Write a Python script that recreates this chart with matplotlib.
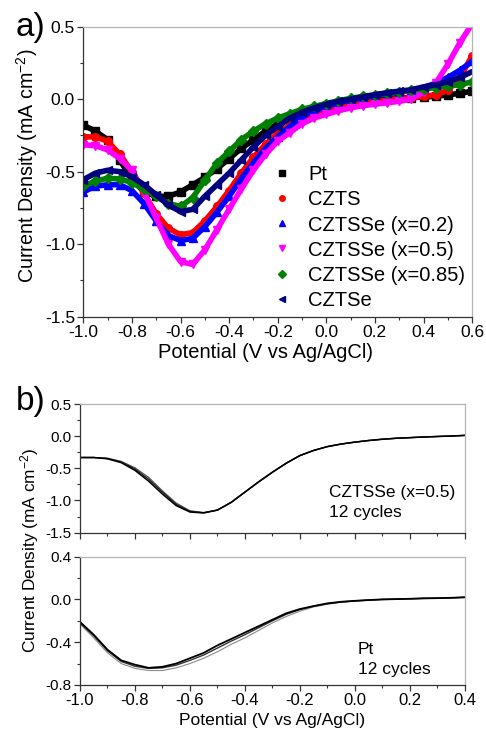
import numpy as np
import matplotlib
matplotlib.use("Agg")
import matplotlib.pyplot as plt
from matplotlib.lines import Line2D
from matplotlib.ticker import MultipleLocator

plt.rcParams['font.family'] = ['Liberation Sans', 'DejaVu Sans']
plt.rcParams['mathtext.fontset'] = 'custom'
plt.rcParams['mathtext.rm'] = 'Liberation Sans'
plt.rcParams['mathtext.it'] = 'Liberation Sans:italic'
plt.rcParams['axes.unicode_minus'] = False

# ---- panel a data (potential step 0.05 V) ----
pot_a = np.round(np.arange(-1.0, 0.6001, 0.05), 3)

j_pt = [-0.18, -0.22, -0.28, -0.42, -0.55, -0.64, -0.67, -0.67, -0.64, -0.59,
        -0.54, -0.48, -0.41, -0.34, -0.28, -0.22, -0.17, -0.13, -0.10, -0.07,
        -0.05, -0.035, -0.02, -0.01, 0.00, 0.005, 0.01, 0.01, 0.015, 0.02,
        0.03, 0.04, 0.055]
j_czts = [-0.26, -0.26, -0.29, -0.38, -0.50, -0.65, -0.79, -0.89, -0.935, -0.92,
          -0.84, -0.74, -0.63, -0.51, -0.40, -0.31, -0.235, -0.18, -0.13, -0.095,
          -0.07, -0.05, -0.035, -0.025, -0.015, -0.005, 0.005, 0.01, 0.02, 0.03,
          0.06, 0.15, 0.30]
j_x02 = [-0.64, -0.60, -0.59, -0.59, -0.63, -0.72, -0.84, -0.94, -0.975, -0.96,
         -0.88, -0.78, -0.67, -0.55, -0.44, -0.34, -0.26, -0.19, -0.12, -0.08,
         -0.05, -0.025, -0.005, 0.01, 0.025, 0.04, 0.05, 0.06, 0.08, 0.11,
         0.15, 0.20, 0.26]
j_x05 = [-0.315, -0.32, -0.35, -0.41, -0.49, -0.64, -0.82, -1.00, -1.12, -1.14,
         -1.04, -0.90, -0.76, -0.62, -0.49, -0.38, -0.29, -0.23, -0.17, -0.13,
         -0.105, -0.08, -0.06, -0.045, -0.035, -0.025, -0.015, 0.0, 0.05, 0.11,
         0.24, 0.39, 0.52]
j_x085 = [-0.60, -0.565, -0.545, -0.55, -0.575, -0.62, -0.67, -0.72, -0.74, -0.68,
          -0.56, -0.44, -0.36, -0.28, -0.22, -0.17, -0.13, -0.10, -0.07, -0.05,
          -0.03, -0.01, 0.005, 0.02, 0.03, 0.04, 0.05, 0.06, 0.07, 0.08,
          0.09, 0.10, 0.12]
j_czTse = [-0.555, -0.51, -0.49, -0.50, -0.535, -0.59, -0.66, -0.73, -0.775, -0.76,
           -0.67, -0.59, -0.51, -0.42, -0.33, -0.25, -0.19, -0.13, -0.09, -0.06,
           -0.035, -0.015, 0.0, 0.015, 0.03, 0.045, 0.055, 0.065, 0.085, 0.10,
           0.12, 0.15, 0.19]

labels_a = ['Pt', 'CZTS', 'CZTSSe (x=0.2)', 'CZTSSe (x=0.5)', 'CZTSSe (x=0.85)', 'CZTSe']
series_a = [j_pt, j_czts, j_x02, j_x05, j_x085, j_czTse]
colors_a = ['black', 'red', 'blue', 'magenta', 'green', 'navy']
markers_a = ['s', 'o', '^', 'v', 'D', '<']

# ---- panel b data (potential step 0.05 V) ----
pot_b = np.round(np.arange(-1.0, 0.4001, 0.05), 3)

czt_cyc1 = [-0.33, -0.33, -0.34, -0.39, -0.49, -0.64, -0.85, -1.04, -1.16, -1.19,
            -1.15, -1.03, -0.87, -0.71, -0.56, -0.42, -0.30, -0.22, -0.16, -0.12,
            -0.09, -0.065, -0.045, -0.03, -0.02, -0.01, -0.002, 0.005, 0.015]
czt_cyc6 = [-0.33, -0.33, -0.345, -0.40, -0.51, -0.67, -0.87, -1.06, -1.17, -1.19,
            -1.15, -1.03, -0.87, -0.71, -0.56, -0.42, -0.30, -0.22, -0.16, -0.12,
            -0.09, -0.065, -0.045, -0.03, -0.02, -0.01, -0.002, 0.005, 0.015]
czt_cyc12 = [-0.33, -0.33, -0.35, -0.41, -0.53, -0.70, -0.90, -1.08, -1.18, -1.195,
             -1.15, -1.03, -0.87, -0.71, -0.56, -0.42, -0.30, -0.22, -0.16, -0.12,
             -0.09, -0.065, -0.045, -0.03, -0.02, -0.01, -0.002, 0.005, 0.015]

pt_cyc1 = [-0.23, -0.36, -0.50, -0.60, -0.645, -0.665, -0.665, -0.64, -0.60, -0.55,
           -0.49, -0.42, -0.36, -0.29, -0.22, -0.16, -0.11, -0.07, -0.045, -0.027,
           -0.016, -0.006, 0.0, 0.003, 0.006, 0.01, 0.012, 0.015, 0.02]
pt_cyc6 = [-0.22, -0.34, -0.48, -0.58, -0.625, -0.645, -0.64, -0.615, -0.57, -0.52,
           -0.455, -0.39, -0.33, -0.265, -0.20, -0.14, -0.095, -0.064, -0.04, -0.024,
           -0.014, -0.006, 0.0, 0.003, 0.006, 0.01, 0.012, 0.015, 0.02]
pt_cyc12 = [-0.21, -0.33, -0.47, -0.57, -0.61, -0.64, -0.63, -0.60, -0.55, -0.50,
            -0.43, -0.37, -0.31, -0.25, -0.19, -0.13, -0.09, -0.062, -0.037, -0.022,
            -0.013, -0.006, 0.0, 0.003, 0.006, 0.01, 0.012, 0.015, 0.02]

LIGHT = '#b4b4b4'
W, H = 486, 729


def style_axes(ax):
    for s in ['top', 'right']:
        ax.spines[s].set_color(LIGHT)
    for s in ['left', 'bottom']:
        ax.spines[s].set_color('#333333')
    for s in ax.spines.values():
        s.set_linewidth(0.9)
    ax.tick_params(which='both', direction='out', top=False, right=False, color='#333333')
    ax.tick_params(which='major', length=4, width=0.9)
    ax.tick_params(which='minor', length=2.5, width=0.8)


fig = plt.figure(figsize=(4.86, 7.29), dpi=100)

# ---------- panel a ----------
ax = fig.add_axes([0.1714, 0.5656, 0.800, 0.3978])
for ys, c, m in zip(series_a, colors_a, markers_a):
    ax.plot(pot_a, ys, color=c, lw=4, marker=m, ms=5.5, mec=c, mfc=c,
            solid_joinstyle='round', solid_capstyle='round')
ax.set_xlim(-1.0, 0.6)
ax.set_ylim(-1.5, 0.5)
ax.xaxis.set_major_locator(MultipleLocator(0.2))
ax.xaxis.set_minor_locator(MultipleLocator(0.1))
ax.yaxis.set_major_locator(MultipleLocator(0.5))
ax.yaxis.set_minor_locator(MultipleLocator(0.25))
ax.xaxis.set_major_formatter(plt.FormatStrFormatter('%.1f'))
ax.yaxis.set_major_formatter(plt.FormatStrFormatter('%.1f'))
style_axes(ax)
ax.tick_params(labelsize=12.5, pad=2)

handles = [Line2D([], [], ls='none', marker=m, color=c, ms=4)
           for c, m in zip(colors_a, markers_a)]
ax.legend(handles, labels_a, loc='lower right', bbox_to_anchor=(1.0, 0.0),
          frameon=False, fontsize=14.5, handlelength=1.0, handletextpad=0.8,
          labelspacing=0.3, borderaxespad=0.15, borderpad=0.2)

fig.text(27 / W, 1 - 166 / H, 'Current Density (mA cm$^{-2}$)', fontsize=14.2,
         rotation=90, ha='center', va='center')
fig.text(265 / W, 1 - 358 / H, 'Potential (V vs Ag/AgCl)', fontsize=14.5,
         ha='center', va='baseline')
fig.text(16 / W, 1 - 36 / H, 'a)', fontsize=24, va='baseline', ha='left')

# ---------- panel b ----------
ax1 = fig.add_axes([0.1646, 0.2695, 0.7916, 0.1759])
ax2 = fig.add_axes([0.1646, 0.0604, 0.7916, 0.1760])

for ys, c, w in zip([czt_cyc1, czt_cyc6, czt_cyc12], ['#555555', '#222222', 'black'], [0.9, 1.0, 1.1]):
    ax1.plot(pot_b, ys, color=c, lw=w)
for ys, c, w in zip([pt_cyc1, pt_cyc6, pt_cyc12], ['#8a8a8a', '#333333', 'black'], [0.8, 1.0, 1.3]):
    ax2.plot(pot_b, ys, color=c, lw=w)

for a_ in (ax1, ax2):
    a_.set_xlim(-1.0, 0.4)
    a_.xaxis.set_major_locator(MultipleLocator(0.2))
    a_.xaxis.set_minor_locator(MultipleLocator(0.1))
    a_.xaxis.set_major_formatter(plt.FormatStrFormatter('%.1f'))
    a_.yaxis.set_major_formatter(plt.FormatStrFormatter('%.1f'))
    style_axes(a_)
    a_.tick_params(axis='y', labelsize=11, pad=2)
    a_.tick_params(axis='x', labelsize=12, pad=2)

ax1.set_ylim(-1.5, 0.5)
ax1.yaxis.set_major_locator(MultipleLocator(0.5))
ax1.yaxis.set_minor_locator(MultipleLocator(0.25))
ax1.tick_params(axis='x', labelbottom=False)

ax2.set_ylim(-0.8, 0.4)
ax2.yaxis.set_major_locator(MultipleLocator(0.4))
ax2.yaxis.set_minor_locator(MultipleLocator(0.2))

ax1.text(-0.094, -0.94, 'CZTSSe (x=0.5)', fontsize=12.5, va='baseline')
ax1.text(-0.094, -1.25, '12 cycles', fontsize=12.5, va='baseline')
ax2.text(0.012, -0.51, 'Pt', fontsize=12.5, va='baseline')
ax2.text(0.012, -0.70, '12 cycles', fontsize=12.5, va='baseline')

fig.text(30 / W, 1 - 550 / H, 'Current Density (mA cm$^{-2}$)', fontsize=12.4,
         rotation=90, ha='center', va='center')
fig.text(272 / W, 1 - 725 / H, 'Potential (V vs Ag/AgCl)', fontsize=12.6,
         ha='center', va='baseline')
fig.text(16 / W, 1 - 410 / H, 'b)', fontsize=24, va='baseline', ha='left')

fig.savefig('out.png', dpi=100)
